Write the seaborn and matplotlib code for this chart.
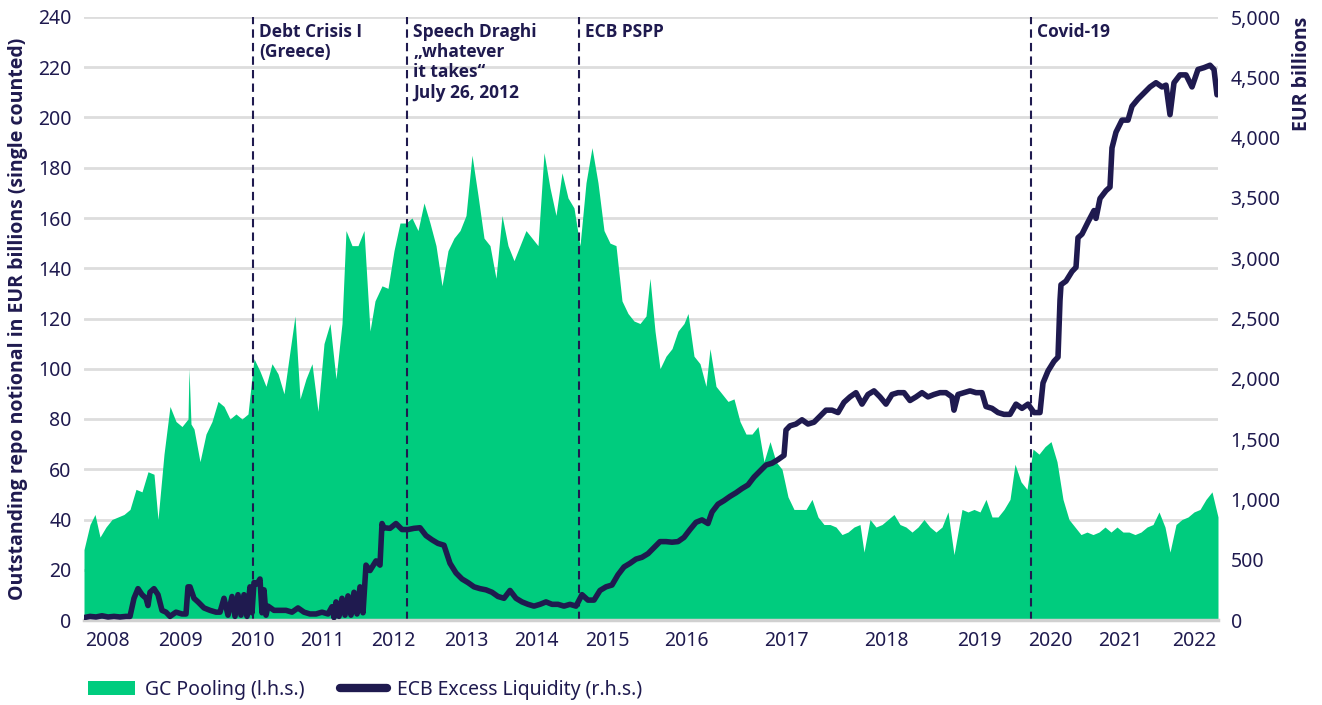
import numpy as np
import matplotlib
matplotlib.use('Agg')
import matplotlib.pyplot as plt
import seaborn as sns
from matplotlib.patches import Patch
from matplotlib.lines import Line2D
from matplotlib.ticker import FuncFormatter, MultipleLocator

# ── Settings ──────────────────────────────────────────
sns.set_theme(style='white')
plt.rcParams['font.family'] = ['Noto Sans', 'DejaVu Sans']
BOLD_FONT = ['Open Sans', 'DejaVu Sans']
GREEN = '#00cc7e'
NAVY = '#1f1a4f'
GRID = '#dddddd'

# ── Data (x = observation index along the axis) ───────
gc_idx = [0, 6, 11, 16, 22, 28, 34, 40, 46, 52, 58, 64, 70, 74, 80, 86, 92, 98, 104, 105,
          107, 110, 116, 122, 128, 134, 140, 146, 152, 158, 164, 170, 176, 182, 188, 194, 200,
          206, 211, 216, 222, 228, 234, 240, 246, 252, 258, 262, 268, 274, 280, 286, 291, 298,
          304, 310, 316, 322, 328, 334, 340, 346, 352, 358, 364, 370, 376, 382, 388, 394, 400,
          406, 412, 418, 424, 430, 436, 442, 448, 454, 460, 466, 472, 478, 484, 490, 496, 502,
          508, 514, 520, 526, 532, 538, 544, 550, 556, 562, 566, 571, 576, 582, 588, 594, 600,
          604, 610, 616, 622, 626, 632, 638, 644, 650, 656, 662, 668, 674, 680, 686, 692, 698,
          704, 710, 716, 722, 728, 734, 740, 746, 752, 758, 764, 770, 776, 780, 786, 792, 798,
          804, 810, 816, 822, 828, 834, 840, 846, 852, 858, 864, 870, 878, 884, 890, 896, 902,
          908, 914, 920, 926, 931, 937, 943, 949, 955, 961, 967, 973, 979, 985, 991, 997, 1003,
          1009, 1015, 1021, 1027, 1033, 1039, 1045, 1051, 1057, 1063, 1069, 1075, 1081, 1086,
          1092, 1098, 1104, 1110, 1116, 1122, 1128, 1134]
gc_pooling = [28, 38, 42, 33, 37, 40, 41, 42, 44, 52, 51, 59, 58, 40, 66, 85, 79, 77, 80, 100,
              78, 76, 63, 74, 79, 87, 85, 80, 82, 80, 82, 104, 99, 93, 102, 98, 90,
              107, 121, 88, 96, 102, 83, 110, 118, 96, 118, 155, 149, 149, 155, 115, 127, 133,
              132, 147, 158, 158, 160, 155, 166, 158, 149, 133, 147, 152, 155, 161, 185, 169, 152,
              149, 136, 161, 149, 143, 149, 155, 152, 149, 186, 172, 161, 178, 168, 164, 149, 174,
              188, 174, 155, 150, 149, 127, 122, 119, 118, 121, 136, 115, 100, 105, 108, 115, 118,
              122, 105, 102, 93, 108, 93, 90, 87, 88, 79, 74, 74, 77, 63, 71, 63, 60,
              49, 44, 44, 44, 48, 41, 38, 38, 37, 34, 35, 37, 38, 27, 40, 37, 38,
              40, 42, 38, 37, 35, 37, 40, 37, 35, 37, 43, 26, 44, 43, 44, 43, 48,
              41, 41, 44, 48, 62, 55, 52, 68, 66, 69, 71, 63, 48, 40, 37, 34, 35,
              34, 35, 37, 35, 37, 35, 35, 34, 35, 37, 38, 43, 37, 27,
              38, 40, 41, 43, 44, 48, 51, 41]

el_idx = [0, 6, 12, 18, 24, 30, 36, 42, 46, 50, 54, 58, 62, 64, 66, 70, 74, 78, 82, 86, 92,
          98, 102, 104, 106, 110, 114, 120, 126, 132, 136, 140, 144, 148, 151, 154, 157, 160,
          163, 166, 168, 170, 173, 176, 178, 180, 182, 184, 190, 196, 202, 208, 214, 220, 226,
          232, 238, 244, 248, 250, 252, 255, 258, 261, 264, 267, 270, 273, 276, 279, 282, 286,
          292, 296, 298, 300, 306, 312, 318, 324, 330, 336, 342, 348, 354, 360, 366, 372, 378,
          384, 390, 396, 402, 408, 414, 420, 426, 432, 438, 444, 450, 456, 462, 468, 474, 480,
          486, 492, 498, 504, 510, 516, 522, 528, 534, 540, 546, 552, 558, 564, 570, 576, 582,
          588, 594, 600, 606, 612, 618, 624, 628, 634, 640, 646, 652, 658, 664, 670, 676, 682,
          688, 694, 700, 702, 706, 712, 718, 724, 730, 736, 742, 748, 754, 760, 766, 772, 778,
          784, 790, 796, 802, 808, 814, 820, 826, 832, 838, 844, 850, 856, 862, 868, 870, 874,
          880, 886, 892, 898, 902, 908, 914, 920, 926, 932, 938, 944, 950, 956, 959, 964, 970,
          974, 976, 977, 982, 988, 992, 994, 998, 1004, 1010, 1012, 1016, 1022, 1026, 1028,
          1032, 1038, 1044, 1048, 1054, 1060, 1066, 1072, 1078, 1082, 1086, 1090, 1096, 1102,
          1108, 1114, 1120, 1126, 1130, 1133]
excess_liquidity = [20, 30, 25, 35, 25, 30, 25, 30, 30, 180, 260, 210, 180, 120, 230, 260, 210, 80, 65, 30, 65,
                    50, 50, 275, 275, 180, 150, 100, 80, 65, 65, 180, 40, 195, 30, 210, 40, 210,
                    30, 275, 60, 310, 300, 340, 60, 250, 40, 115, 80, 80, 80, 65, 100, 65, 50,
                    50, 65, 50, 110, 20, 150, 30, 180, 40, 200, 40, 230, 50, 275, 60, 455, 410,
                    490, 455, 800, 765, 760, 800, 750, 750, 760, 765, 700, 665, 635, 620, 470, 390, 340,
                    310, 275, 260, 250, 230, 195, 180, 245, 180, 150, 130, 115, 130, 150, 130, 130, 115,
                    130, 115, 210, 165, 165, 245, 275, 290, 375, 440, 470, 505, 520, 550, 600, 650, 650,
                    645, 650, 685, 750, 810, 830, 800, 895, 960, 990, 1025, 1055, 1090, 1120, 1185, 1235, 1285,
                    1300, 1330, 1365, 1575, 1610, 1625, 1660, 1625, 1640, 1690, 1740, 1740, 1720, 1805, 1850, 1885, 1790,
                    1870, 1900, 1850, 1790, 1870, 1885, 1885, 1820, 1850, 1885, 1850, 1870, 1885, 1885, 1850, 1740, 1870,
                    1885, 1900, 1885, 1885, 1770, 1755, 1720, 1705, 1705, 1790, 1755, 1790, 1720, 1720, 1965, 2065, 2145,
                    2180, 2650, 2780, 2810, 2890, 2925, 3170, 3200, 3300, 3395, 3330, 3495, 3560, 3590, 3915,
                    4045, 4145, 4145, 4260, 4320, 4370, 4420, 4455, 4420, 4435, 4190, 4455, 4520, 4520,
                    4420, 4565, 4580, 4600, 4565, 4355]

year_labels = ['2008', '2009', '2010', '2011', '2012', '2013', '2014', '2015',
               '2016', '2017', '2018', '2019', '2020', '2021', '2022']
year_idx = [23, 96, 168, 238, 309, 382, 452, 523, 602, 702, 802, 895, 966, 1036, 1110]

event_idx = [169, 323, 495, 947]
event_labels = ['Debt Crisis I\n(Greece)',
                'Speech Draghi\n\u201ewhatever\nit takes\u201c\nJuly 26, 2012',
                'ECB PSPP',
                'Covid-19']

# ── Chart ──────────────────────────────────────────────
fig = plt.figure(figsize=(13.22, 7.05), dpi=100)
ax = fig.add_axes([84 / 1322, 1 - 620 / 705, 1134 / 1322, 603 / 705])
ax2 = ax.twinx()

ax.set_axisbelow(True)
ax.yaxis.grid(True, color=GRID, lw=2)
ax.xaxis.grid(False)
ax.fill_between(gc_idx, gc_pooling, 0, color=GREEN, lw=0, zorder=2)

for xi in event_idx:
    ax.axvline(xi, color=NAVY, lw=1.5, ls=(0, (4, 2.5)), zorder=3)
for xi, lab in zip(event_idx, event_labels):
    ax.text(xi + 6, 237.8, lab, color=NAVY, fontsize=12.5, fontweight='bold',
            family=BOLD_FONT, va='top', ha='left', linespacing=1.17, zorder=4)

sns.lineplot(x=el_idx, y=excess_liquidity, ax=ax2, color=NAVY, lw=4,
             solid_joinstyle='round', solid_capstyle='round')

ax.set_xlim(0, 1134)
ax.set_ylim(0, 240)
ax2.set_ylim(0, 5000)
ax.yaxis.set_major_locator(MultipleLocator(20))
ax2.yaxis.set_major_locator(MultipleLocator(500))
ax2.yaxis.set_major_formatter(FuncFormatter(lambda v, p: f'{v:,.0f}'))
ax.set_xticks(year_idx)
ax.set_xticklabels(year_labels)

for a in (ax, ax2):
    for s in a.spines.values():
        s.set_visible(False)
    a.tick_params(length=0, labelsize=14, labelcolor=NAVY)
ax.spines['bottom'].set_visible(True)
ax.spines['bottom'].set_color('#d0d0d0')
ax.spines['bottom'].set_linewidth(2.5)
ax.spines['bottom'].set_zorder(5)
ax.tick_params(axis='y', pad=9)
ax.tick_params(axis='x', pad=8)
ax2.tick_params(axis='y', pad=9)

ax.set_ylabel('Outstanding repo notional in EUR billions (single counted)',
              fontsize=14, fontweight='bold', family=BOLD_FONT, color=NAVY, labelpad=7)
ax2.set_ylabel('EUR billions', fontsize=14, fontweight='bold', family=BOLD_FONT,
               color=NAVY, loc='top', labelpad=8)

handles = [Patch(facecolor=GREEN, edgecolor='none'),
           Line2D([0], [0], color=NAVY, lw=6)]
fig.legend(handles, ['GC Pooling (l.h.s.)', 'ECB Excess Liquidity (r.h.s.)'],
           loc='center left', bbox_to_anchor=(88 / 1322, 15 / 705), frameon=False,
           ncol=2, fontsize=14, handlelength=2.4, handleheight=0.75,
           handletextpad=0.55, columnspacing=1.8, borderpad=0, borderaxespad=0,
           labelcolor=NAVY)

plt.savefig('out.png', dpi=100)
